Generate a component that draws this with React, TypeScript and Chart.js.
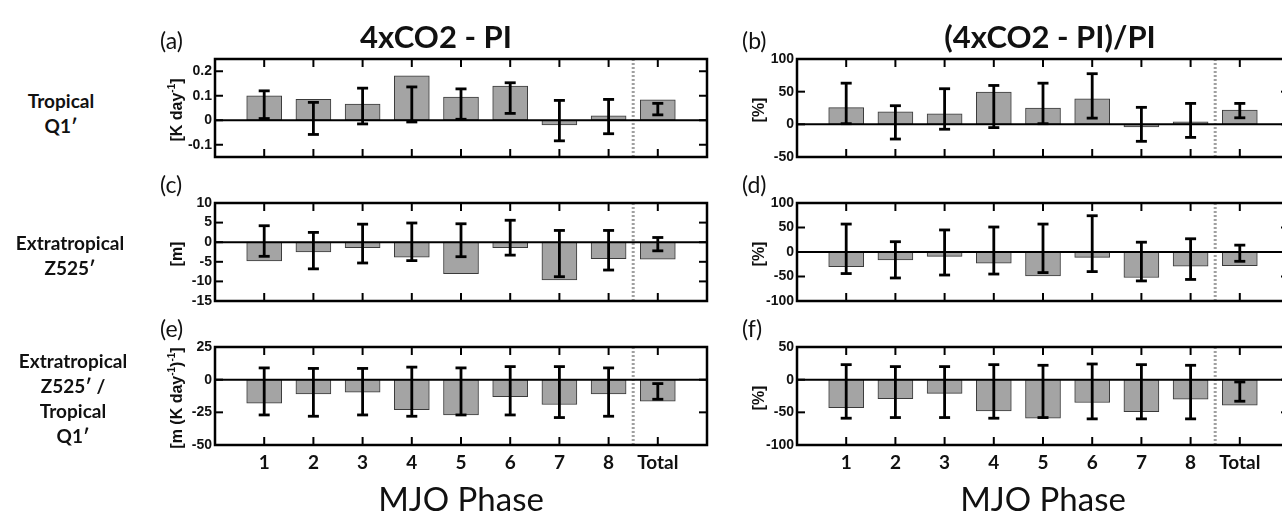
import React, { useEffect, useRef } from "react";
import { Chart, registerables } from "chart.js";

Chart.register(...registerables);

// ---------- data ----------
const phaseLabels = ["", "1", "2", "3", "4", "5", "6", "7", "8", "Total", ""];

// (a) Tropical Q1', 4xCO2 - PI  [K day-1]
const q1DiffValues = [0.1, 0.085, 0.066, 0.181, 0.095, 0.139, -0.019, 0.018, 0.083];
const q1DiffLow = [0.007, -0.058, -0.015, -0.007, 0.004, 0.028, -0.084, -0.055, 0.022];
const q1DiffHigh = [0.12, 0.073, 0.131, 0.136, 0.128, 0.153, 0.081, 0.085, 0.069];
const q1DiffTicks = [-0.1, 0, 0.1, 0.2];

// (b) Tropical Q1', (4xCO2 - PI)/PI  [%]
const q1PctValues = [25.5, 19, 16, 49.5, 25, 39, -4, 4, 22];
const q1PctLow = [1, -22.5, -7.5, -5, 1, 9.5, -26, -20, 10];
const q1PctHigh = [63, 28.5, 54.5, 59.5, 63, 77.5, 26, 32, 32];
const q1PctTicks = [-50, 0, 50, 100];

// (c) Extratropical Z525', 4xCO2 - PI  [m]
const zDiffValues = [-4.8, -2.5, -1.4, -3.8, -8.0, -1.4, -9.6, -4.2, -4.3];
const zDiffLow = [-3.6, -6.8, -5.3, -4.7, -3.7, -3.3, -8.8, -7.1, -2.2];
const zDiffHigh = [4.2, 2.5, 4.6, 4.9, 4.7, 5.6, 3.0, 3.0, 1.2];
const zDiffTicks = [-15, -10, -5, 0, 5, 10];

// (d) Extratropical Z525', (4xCO2 - PI)/PI  [%]
const zPctValues = [-30, -16, -9, -23, -49, -11, -52, -29, -28];
const zPctLow = [-44, -53, -47, -45, -42, -40, -59, -56, -19];
const zPctHigh = [57, 21, 45, 51, 57, 74, 20, 27, 14];
const zPctTicks = [-100, -50, 0, 50, 100];

// (e) Z525'/Q1', 4xCO2 - PI  [m (K day-1)-1]
const ratioDiffValues = [-18, -11, -9.6, -23, -27, -13, -19, -11, -16.5];
const ratioDiffLow = [-27, -28, -27, -28, -27, -27, -29, -28, -15];
const ratioDiffHigh = [9, 8.6, 8.6, 9.6, 9, 10, 10, 9, -3];
const ratioDiffTicks = [-50, -25, 0, 25];

// (f) Z525'/Q1', (4xCO2 - PI)/PI  [%]
const ratioPctValues = [-43, -29, -21, -48, -59, -35, -49, -30, -39];
const ratioPctLow = [-59, -58, -58, -59, -58, -60, -60, -60, -33];
const ratioPctHigh = [23, 20, 20, 23, 22, 24, 23, 22, -3.5];
const ratioPctTicks = [-100, -50, 0, 50];

// ---------- layout ----------
const PANEL_W = 492;
const PANEL_H = 98;
const AXIS_W = 115;
const PAD_T = 12;
const PAD_R = 12;
const XAXIS_H = 40;
const CANVAS_W = AXIS_W + PANEL_W + PAD_R;
const CANVAS_H = PAD_T + PANEL_H + XAXIS_H;
const COL_X = [215, 797];
const ROW_Y = [59, 203, 347];

type Part = { t: string; sup?: boolean };
type Spec = {
  letter: string;
  values: number[];
  low: number[];
  high: number[];
  ticks: number[];
  min: number;
  max: number;
  yTitle: Part[];
  showX: boolean;
  col: number;
  row: number;
};

const specs: Spec[] = [
  { letter: "(a)", values: q1DiffValues, low: q1DiffLow, high: q1DiffHigh, ticks: q1DiffTicks, min: -0.15, max: 0.25,
    yTitle: [{ t: "[K day" }, { t: "-1", sup: true }, { t: "]" }], showX: false, col: 0, row: 0 },
  { letter: "(b)", values: q1PctValues, low: q1PctLow, high: q1PctHigh, ticks: q1PctTicks, min: -50, max: 100,
    yTitle: [{ t: "[%]" }], showX: false, col: 1, row: 0 },
  { letter: "(c)", values: zDiffValues, low: zDiffLow, high: zDiffHigh, ticks: zDiffTicks, min: -15, max: 10,
    yTitle: [{ t: "[m]" }], showX: false, col: 0, row: 1 },
  { letter: "(d)", values: zPctValues, low: zPctLow, high: zPctHigh, ticks: zPctTicks, min: -100, max: 100,
    yTitle: [{ t: "[%]" }], showX: false, col: 1, row: 1 },
  { letter: "(e)", values: ratioDiffValues, low: ratioDiffLow, high: ratioDiffHigh, ticks: ratioDiffTicks, min: -50, max: 25,
    yTitle: [{ t: "[m (K day" }, { t: "-1", sup: true }, { t: ")" }, { t: "-1", sup: true }, { t: "]" }], showX: true, col: 0, row: 2 },
  { letter: "(f)", values: ratioPctValues, low: ratioPctLow, high: ratioPctHigh, ticks: ratioPctTicks, min: -100, max: 50,
    yTitle: [{ t: "[%]" }], showX: true, col: 1, row: 2 },
];

const rowLabels: { lines: string[]; cx: number; cy: number }[] = [
  { lines: ["Tropical", "Q1\u2032"], cx: 61, cy: 113 },
  { lines: ["Extratropical", "Z525\u2032"], cx: 70, cy: 255 },
  { lines: ["Extratropical", "Z525\u2032 /", "Tropical", "Q1\u2032"], cx: 73, cy: 398 },
];

const titles = ["4xCO2 - PI", "(4xCO2 - PI)/PI"];

function drawRotatedRich(ctx: CanvasRenderingContext2D, parts: Part[], cx: number, cy: number, size: number) {
  const base = `bold ${size}px 'Liberation Sans', Arial, sans-serif`;
  const sup = `bold ${Math.round(size * 0.62)}px 'Liberation Sans', Arial, sans-serif`;
  ctx.save();
  ctx.translate(cx, cy);
  ctx.rotate(-Math.PI / 2);
  let total = 0;
  for (const p of parts) {
    ctx.font = p.sup ? sup : base;
    total += ctx.measureText(p.t).width;
  }
  let x = -total / 2;
  ctx.fillStyle = "#111";
  ctx.textAlign = "left";
  ctx.textBaseline = "middle";
  for (const p of parts) {
    ctx.font = p.sup ? sup : base;
    ctx.fillText(p.t, x, p.sup ? -size * 0.38 : 0);
    x += ctx.measureText(p.t).width;
  }
  ctx.restore();
}

function Panel({ spec }: { spec: Spec }) {
  const ref = useRef<HTMLCanvasElement>(null);
  useEffect(() => {
    const canvas = ref.current!;
    const line = (ctx: CanvasRenderingContext2D, x1: number, y1: number, x2: number, y2: number) => {
      ctx.beginPath();
      ctx.moveTo(x1, y1);
      ctx.lineTo(x2, y2);
      ctx.stroke();
    };
    const plugin = {
      id: "matlabBox",
      beforeDatasetsDraw(chart: any) {
        const { ctx, chartArea: ca, scales } = chart;
        const xs = scales.x;
        const px = (xs.getPixelForValue(8) + xs.getPixelForValue(9)) / 2;
        ctx.save();
        ctx.strokeStyle = "#a0a0a0";
        ctx.lineWidth = 3;
        ctx.setLineDash([2, 2]);
        line(ctx, px, ca.top, px, ca.bottom);
        ctx.restore();
      },
      afterDatasetsDraw(chart: any) {
        const { ctx, chartArea: ca, scales } = chart;
        const xs = scales.x;
        const ys = scales.y;
        ctx.save();
        ctx.strokeStyle = "#000";
        ctx.lineCap = "butt";
        // zero line
        ctx.lineWidth = 2;
        const y0 = ys.getPixelForValue(0);
        line(ctx, ca.left, y0, ca.right, y0);
        // error bars
        ctx.lineWidth = 2.8;
        spec.values.forEach((_, i) => {
          const px = xs.getPixelForValue(i + 1);
          const yl = ys.getPixelForValue(spec.low[i]);
          const yh = ys.getPixelForValue(spec.high[i]);
          line(ctx, px, yl, px, yh);
          line(ctx, px - 5.5, yl, px + 5.5, yl);
          line(ctx, px - 5.5, yh, px + 5.5, yh);
        });
        // inward ticks
        ctx.lineWidth = 2;
        for (let i = 1; i <= 9; i++) {
          const px = xs.getPixelForValue(i);
          line(ctx, px, ca.top, px, ca.top + 8);
          line(ctx, px, ca.bottom, px, ca.bottom - 8);
        }
        spec.ticks.forEach((v) => {
          const py = ys.getPixelForValue(v);
          line(ctx, ca.left, py, ca.left + 8, py);
          line(ctx, ca.right, py, ca.right - 8, py);
        });
        // box
        ctx.lineWidth = 2.5;
        ctx.strokeRect(ca.left, ca.top, ca.right - ca.left, ca.bottom - ca.top);
        ctx.restore();
        drawRotatedRich(ctx, spec.yTitle, ca.left - 37, (ca.top + ca.bottom) / 2 + 2, 16);
      },
    };
    const chart = new Chart(canvas, {
      type: "bar",
      data: {
        labels: phaseLabels,
        datasets: [
          {
            data: [null, ...spec.values, null],
            backgroundColor: "#a4a4a4",
            borderColor: "#3a3a3a",
            borderWidth: 1,
            borderSkipped: false,
            barThickness: 35,
          },
        ],
      },
      options: {
        responsive: false,
        animation: false,
        devicePixelRatio: 1,
        events: [],
        layout: { autoPadding: false, padding: { left: 0, right: PAD_R, top: PAD_T, bottom: 0 } },
        plugins: { legend: { display: false }, tooltip: { enabled: false } },
        scales: {
          x: {
            type: "category",
            offset: false,
            grid: { display: false, drawTicks: false },
            border: { display: false },
            ticks: {
              display: spec.showX,
              autoSkip: false,
              maxRotation: 0,
              color: "#111",
              padding: 6,
              font: { family: "Lato, 'Open Sans', sans-serif", weight: "bold", size: 19 },
            },
            afterFit: (s: any) => {
              s.height = XAXIS_H;
            },
          },
          y: {
            type: "linear",
            min: spec.min,
            max: spec.max,
            grid: { display: false, drawTicks: false },
            border: { display: false },
            afterBuildTicks: (s: any) => {
              s.ticks = spec.ticks.map((v) => ({ value: v }));
            },
            ticks: {
              color: "#111",
              padding: 3,
              autoSkip: false,
              font: { family: "'Liberation Sans Narrow', 'Liberation Sans', Arial, sans-serif", weight: "bold", size: 14 },
              callback: (v: any) => String(v),
            },
            afterFit: (s: any) => {
              s.width = AXIS_W;
            },
          },
        },
      } as any,
      plugins: [plugin],
    });
    return () => chart.destroy();
  }, []);
  return (
    <canvas
      ref={ref}
      width={CANVAS_W}
      height={CANVAS_H}
      style={{
        position: "absolute",
        left: COL_X[spec.col] - AXIS_W,
        top: ROW_Y[spec.row] - PAD_T,
        width: CANVAS_W,
        height: CANVAS_H,
      }}
    />
  );
}

export default function App() {
  const center: React.CSSProperties = { position: "absolute", transform: "translate(-50%, -50%)", whiteSpace: "nowrap" };
  return (
    <div
      style={{
        position: "absolute",
        left: 0,
        top: 0,
        width: 1282,
        height: 511,
        overflow: "hidden",
        background: "#fff",
        fontFamily: "Lato, 'Open Sans', sans-serif",
        color: "#111",
      }}
    >
      {specs.map((s) => (
        <Panel key={s.letter} spec={s} />
      ))}
      {specs.map((s) => (
        <div
          key={"l" + s.letter}
          style={{ position: "absolute", left: COL_X[s.col] - 55, top: ROW_Y[s.row] - 19, transform: "translateY(-50%)", fontSize: 23, lineHeight: "23px" }}
        >
          {s.letter}
        </div>
      ))}
      {titles.map((t, i) => (
        <div key={t} style={{ ...center, left: i === 0 ? 436 : 1050, top: 36, fontSize: 31, fontWeight: 700, lineHeight: "31px" }}>
          {t}
        </div>
      ))}
      {rowLabels.map((r, i) => (
        <div key={i} style={{ ...center, left: r.cx, top: r.cy, fontSize: 19, fontWeight: 700, lineHeight: "25px", textAlign: "center" }}>
          {r.lines.map((l, j) => (
            <div key={j}>{l}</div>
          ))}
        </div>
      ))}
      {COL_X.map((x, i) => (
        <div key={"m" + i} style={{ ...center, left: x + PANEL_W / 2, top: 498, fontSize: 33, lineHeight: "33px" }}>
          MJO Phase
        </div>
      ))}
    </div>
  );
}
